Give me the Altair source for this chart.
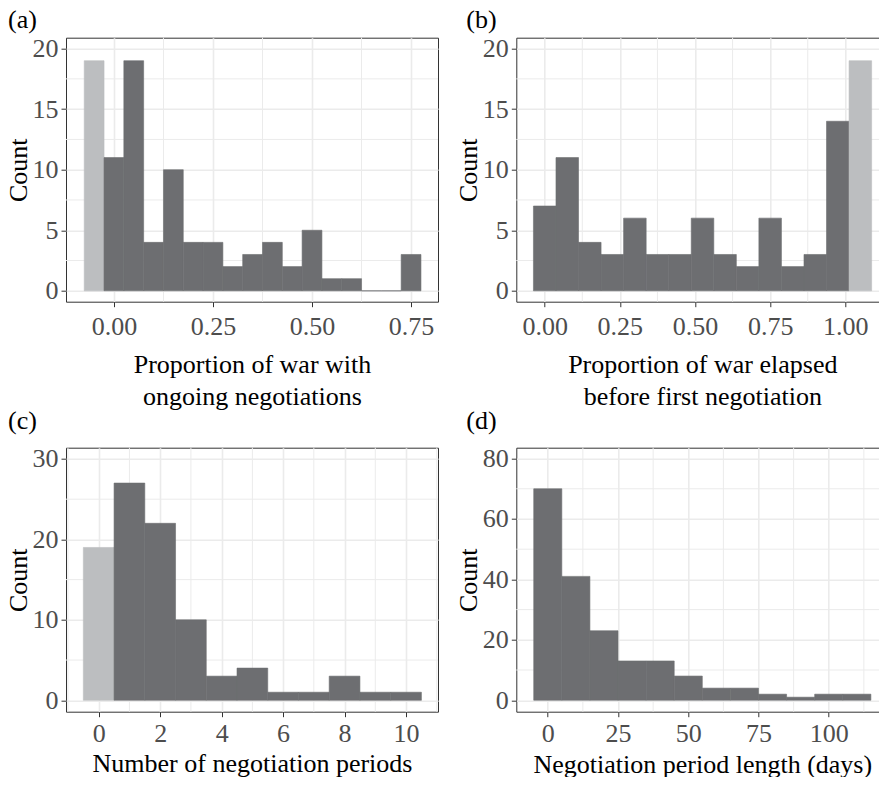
import altair as alt
import pandas as pd

FONT = "Liberation Serif, Times New Roman, serif"
DARK = "#6d6e71"
DARK_D = "#76777b"
LIGHT = "#bcbec0"
GRID = "#ebebeb"

W, H = 372, 264

# ---------------- data ----------------
# (a) Proportion of war with ongoing negotiations
a_centers = [-0.05, 0.0, 0.05, 0.10, 0.15, 0.20, 0.25, 0.30, 0.35, 0.40, 0.45,
             0.50, 0.55, 0.60, 0.65, 0.70, 0.75]
a_counts = [19, 11, 19, 4, 10, 4, 4, 2, 3, 4, 2, 5, 1, 1, 0, 0, 3]
a_groups = ["none"] + ["some"] * 16
a_binwidth = 0.05

# (b) Proportion of war elapsed before first negotiation
b_centers = [0.0, 0.075, 0.15, 0.225, 0.3, 0.375, 0.45, 0.525, 0.6, 0.675,
             0.75, 0.825, 0.9, 0.975, 1.05]
b_counts = [7, 11, 4, 3, 6, 3, 3, 6, 3, 2, 6, 2, 3, 14, 19]
b_groups = ["some"] * 14 + ["none"]
b_binwidth = 0.075

# (c) Number of negotiation periods
c_centers = [0, 1, 2, 3, 4, 5, 6, 7, 8, 9, 10]
c_counts = [19, 27, 22, 10, 3, 4, 1, 1, 3, 1, 1]
c_groups = ["none"] + ["some"] * 10
c_binwidth = 1

# (d) Negotiation period length (days)
d_centers = [0, 10, 20, 30, 40, 50, 60, 70, 80, 90, 100, 110]
d_counts = [70, 41, 23, 13, 13, 8, 4, 4, 2, 1, 2, 2]
d_groups = ["some"] * 12
d_binwidth = 10

# axis ticks / minor grid
a_xticks = [0, 0.25, 0.5, 0.75]
a_xminor = [0.125, 0.375, 0.625]
ab_yticks = [0, 5, 10, 15, 20]
ab_yminor = [2.5, 7.5, 12.5, 17.5]
b_xticks = [0, 0.25, 0.5, 0.75, 1.0]
b_xminor = [0.125, 0.375, 0.625, 0.875, 1.125]
c_xticks = [0, 2, 4, 6, 8, 10]
c_xminor = [-1, 1, 3, 5, 7, 9, 11]
c_yticks = [0, 10, 20, 30]
c_yminor = [5, 15, 25]
d_xticks = [0, 25, 50, 75, 100]
d_xminor = [12.5, 37.5, 62.5, 87.5, 112.5]
d_yticks = [0, 20, 40, 60, 80]
d_yminor = [10, 30, 50, 70]

AXIS_STYLE = dict(
    grid=True, gridColor=GRID, gridWidth=1.6, domain=False, ticks=True,
    tickSize=5, tickColor="#333333", tickWidth=1, labelFont=FONT,
    labelFontSize=26, labelColor="#4d4d4d", labelFlush=False,
    labelOverlap=False, titleFont=FONT, titleFontSize=26,
    titleFontWeight="normal", titleColor="black", titleBaseline="alphabetic",
)


def panel(centers, counts, groups, binw, xdom, ydom, xticks, xminor, yticks,
          yminor, xfmt, xtitle, tag, tag_dx, tag_offset, title_y, label_pad,
          dark):
    df = pd.DataFrame({"center": centers, "count": counts, "group": groups})
    df["x0"] = df["center"] - binw / 2
    df["x1"] = df["center"] + binw / 2
    df["zero"] = 0

    xs = alt.Scale(domain=xdom, nice=False, zero=False)
    ys = alt.Scale(domain=ydom, nice=False, zero=False)

    xaxis = alt.Axis(
        orient="bottom", values=xticks, format=xfmt, title=xtitle,
        labelPadding=label_pad, titleX=W / 2, titleY=title_y,
        titleLineHeight=32, **AXIS_STYLE,
    )
    yaxis = alt.Axis(
        orient="left", values=yticks, format="d", title="Count",
        labelPadding=3, titleX=-40, titleY=H / 2, **AXIS_STYLE,
    )

    xm = alt.Chart(pd.DataFrame({"v": xminor})).mark_rule(
        color=GRID, strokeWidth=1
    ).encode(x=alt.X("v:Q", scale=xs, axis=None))
    ym = alt.Chart(pd.DataFrame({"v": yminor})).mark_rule(
        color=GRID, strokeWidth=1
    ).encode(y=alt.Y("v:Q", scale=ys, axis=None))

    cscale = alt.Scale(domain=["none", "some"], range=[LIGHT, dark])
    bars = alt.Chart(df).mark_rect(strokeWidth=0.6).encode(
        x=alt.X("x0:Q", scale=xs, axis=xaxis),
        x2="x1:Q",
        y=alt.Y("count:Q", scale=ys, axis=yaxis),
        y2="zero:Q",
        color=alt.Color("group:N", scale=cscale, legend=None),
        stroke=alt.Stroke("group:N", scale=cscale, legend=None),
    )

    return alt.layer(xm, ym, bars).resolve_axis(
        x="independent", y="independent"
    ).properties(
        width=W, height=H,
        title=alt.TitleParams(
            text=tag, anchor="start", frame="group", dx=tag_dx,
            offset=tag_offset, font=FONT, fontSize=26, fontWeight="normal",
            color="black", baseline="top",
        ),
    )


pa = panel(a_centers, a_counts, a_groups, a_binwidth, [-0.121, 0.818],
           [-0.9, 20.9], a_xticks, a_xminor, ab_yticks, ab_yminor, ".2f",
           ["Proportion of war with", "ongoing negotiations"], "(a)", -58,
           2.8, 70.7, 6.5, DARK)
pb = panel(b_centers, b_counts, b_groups, b_binwidth, [-0.0945, 1.143],
           [-0.9, 20.9], b_xticks, b_xminor, ab_yticks, ab_yminor, ".2f",
           ["Proportion of war elapsed", "before first negotiation"], "(b)",
           -50, 2.8, 70.7, 6.5, DARK)
pc = panel(c_centers, c_counts, c_groups, c_binwidth, [-1.064, 11.04],
           [-1.42, 31.4], c_xticks, c_xminor, c_yticks, c_yminor, "d",
           "Number of negotiation periods", "(c)", -58, 11.5, 60, 4.2, DARK)
pd_ = panel(d_centers, d_counts, d_groups, d_binwidth, [-11.2, 121.2],
            [-3.8, 83.6], d_xticks, d_xminor, d_yticks, d_yminor, "d",
            "Negotiation period length (days)", "(d)", -50, 11.2, 60.5, 4.2,
            DARK_D)

chart = alt.concat(
    pa, pb, pc, pd_, columns=2, spacing={"row": 146, "column": 78.3},
    bounds="flush",
).properties(
    autosize=alt.AutoSizeParams(type="none"),
    padding={"left": 58, "top": 29.7, "right": 813, "bottom": 739.3},
).configure_view(
    stroke="#333333", strokeWidth=1
).configure_axis(
    **AXIS_STYLE
)

chart.save("out.html", embed_options={"renderer": "svg", "actions": False})
